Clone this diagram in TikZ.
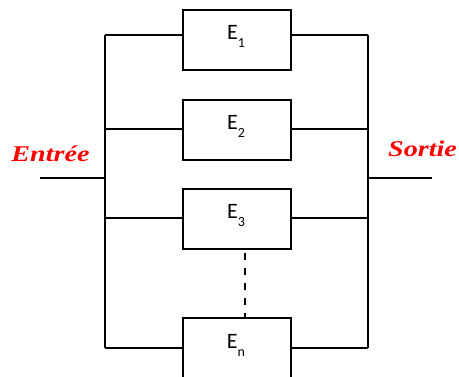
\documentclass[tikz,border=0pt]{standalone}
\usepackage{fontspec}
\setmainfont{Carlito}
\newfontfamily\lblfont{Liberation Serif}
\begin{document}
\begin{tikzpicture}[x=1pt,y=-1pt,
  wire/.style={line width=1.7pt},
  unit/.style={draw, line width=1.7pt, minimum width=108pt, minimum height=60pt,
               inner sep=0pt, outer sep=0pt},
  etxt/.style={anchor=base, inner sep=0pt},
  iolabel/.style={anchor=base, inner sep=0pt, text=red, xscale=1.25,
                  font=\lblfont\bfseries\itshape\fontsize{22.5}{22.5}\selectfont}]
\useasboundingbox (0,0) rectangle (459,377);
\clip (0,0) rectangle (459,377);

% elements in parallel
\node[unit] (b1) at (237,40) {};
\node[unit] (b2) at (237,130) {};
\node[unit] (b3) at (237,219) {};
\node[unit] (bn) at (237,348) {};

\newcommand{\elname}[1]{{\fontsize{22}{22}\selectfont E}\raisebox{-8.5pt}{\fontsize{14}{14}\selectfont #1}}
\node[etxt] (t1) at (236,39.3) {\elname{1}};
\node[etxt] (t2) at (236,129.3) {\elname{2}};
\node[etxt] (t3) at (236,218.3) {\elname{3}};
\node[etxt] (tn) at (236,348.5) {\elname{n}};

% left and right bus bars
\coordinate (L1) at (105,35);
\coordinate (L2) at (105,129);
\coordinate (L3) at (105,218);
\coordinate (Ln) at (105,348);
\coordinate (R1) at (368,35);
\coordinate (R2) at (368,129);
\coordinate (R3) at (368,218);
\coordinate (Rn) at (368,348);
\draw[wire] (L1) -- (Ln);
\draw[wire] (R1) -- (Rn);

\draw[wire] (L1) -- (L1 -| b1.west);
\draw[wire] (L2) -- (L2 -| b2.west);
\draw[wire] (L3) -- (L3 -| b3.west);
\draw[wire] (Ln) -- (Ln -| bn.west);
\draw[wire] (R1) -- (R1 -| b1.east);
\draw[wire] (R2) -- (R2 -| b2.east);
\draw[wire] (R3) -- (R3 -| b3.east);
\draw[wire] (Rn) -- (Rn -| bn.east);

% omitted elements
\coordinate (d1) at (245,249);
\draw[line width=2.4pt, dash pattern=on 7.5pt off 7.5pt, dash phase=-4pt]
  (d1) -- (d1 |- bn.north);

% input and output
\coordinate (inA) at (40,178);
\coordinate (inB) at (105,178);
\coordinate (outA) at (368,178);
\coordinate (outB) at (432,178);
\draw[wire] (inA) -- (inB);
\draw[wire] (outA) -- (outB);
\node[iolabel] (entree) at (50.5,161.7) {Entrée};
\node[iolabel] (sortie) at (422.5,156.7) {Sortie};
\end{tikzpicture}
\end{document}
